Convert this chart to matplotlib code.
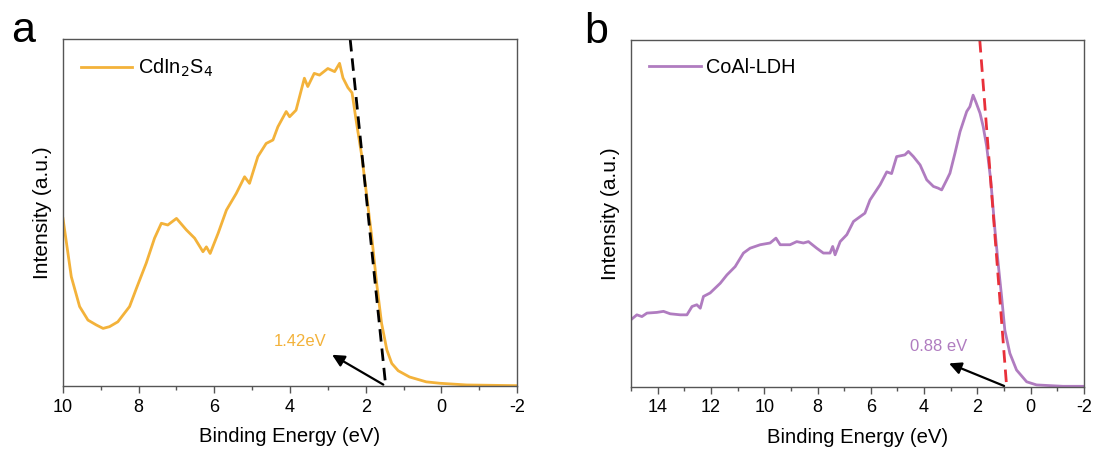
import matplotlib
matplotlib.use("Agg")
import matplotlib.pyplot as plt
from matplotlib.ticker import MultipleLocator

plt.rcParams['font.family'] = ['Liberation Sans', 'DejaVu Sans']
plt.rcParams['axes.unicode_minus'] = False

# Panel a: CdIn2S4 valence band XPS
cdin_x = [10.0, 9.78, 9.56, 9.34, 9.12, 8.94, 8.77, 8.55, 8.24, 8.06, 7.80, 7.58, 7.40, 7.23,
          7.00, 6.74, 6.52, 6.30, 6.21, 6.11, 5.90, 5.68, 5.42, 5.20, 5.07, 4.85, 4.63, 4.45,
          4.32, 4.10, 4.01, 3.84, 3.62, 3.53, 3.36, 3.22, 3.00, 2.82, 2.69, 2.60, 2.47, 2.36,
          2.24, 2.10, 1.97, 1.84, 1.71, 1.58, 1.44, 1.31, 1.14, 0.84, 0.40, 0.05, -0.67, -2.0]
cdin_y = [0.483, 0.315, 0.229, 0.190, 0.176, 0.166, 0.171, 0.185, 0.229, 0.281, 0.354, 0.426,
          0.469, 0.464, 0.483, 0.450, 0.426, 0.387, 0.401, 0.382, 0.440, 0.507, 0.555, 0.603,
          0.584, 0.661, 0.699, 0.709, 0.747, 0.791, 0.776, 0.795, 0.887, 0.863, 0.901, 0.896,
          0.915, 0.906, 0.930, 0.888, 0.860, 0.845, 0.757, 0.661, 0.546, 0.430, 0.296, 0.181,
          0.104, 0.065, 0.044, 0.026, 0.012, 0.008, 0.003, 0.001]
cdin_fit_x = [2.41, 1.47]
cdin_fit_y = [1.0, 0.0]

# Panel b: CoAl-LDH valence band XPS
coal_x = [15.0, 14.78, 14.59, 14.40, 14.03, 13.78, 13.53, 13.15, 12.90, 12.71, 12.53, 12.40,
          12.28, 12.03, 11.65, 11.40, 11.09, 10.78, 10.53, 10.15, 9.78, 9.56, 9.40, 9.03, 8.78,
          8.53, 8.34, 8.03, 7.78, 7.53, 7.43, 7.34, 7.15, 6.90, 6.65, 6.40, 6.22, 6.03, 5.65,
          5.40, 5.22, 5.03, 4.72, 4.59, 4.40, 4.15, 3.90, 3.65, 3.47, 3.34, 3.15, 3.03, 2.84,
          2.65, 2.40, 2.28, 2.16, 2.05, 1.90, 1.78, 1.65, 1.50, 1.34, 1.22, 1.09, 0.97, 0.78,
          0.53, 0.15, -0.22, -1.21, -2.0]
coal_y = [0.194, 0.208, 0.203, 0.213, 0.215, 0.218, 0.211, 0.208, 0.208, 0.232, 0.237, 0.227,
          0.261, 0.271, 0.299, 0.323, 0.347, 0.386, 0.400, 0.410, 0.415, 0.429, 0.410, 0.410,
          0.419, 0.415, 0.419, 0.400, 0.386, 0.386, 0.405, 0.381, 0.419, 0.439, 0.477, 0.491,
          0.501, 0.539, 0.583, 0.620, 0.615, 0.664, 0.669, 0.679, 0.664, 0.640, 0.597, 0.578,
          0.573, 0.568, 0.597, 0.616, 0.674, 0.736, 0.794, 0.808, 0.841, 0.820, 0.789, 0.750,
          0.693, 0.597, 0.452, 0.356, 0.260, 0.164, 0.097, 0.049, 0.015, 0.006, 0.002, 0.002]
coal_fit_x = [1.91, 0.90]
coal_fit_y = [1.0, 0.0]

ORANGE = '#F3B23A'
PURPLE = '#B07CC0'
RED = '#E8303A'
SPINE = '#555555'

fig = plt.figure(figsize=(10.97, 4.5), dpi=100)
ax1 = fig.add_axes([0.0574, 0.1422, 0.4139, 0.7711])
ax2 = fig.add_axes([0.5752, 0.1400, 0.4129, 0.7711])

def style(ax, xmax, xmin):
    ax.set_xlim(xmax, xmin)
    ax.set_ylim(0, 1.0)
    ax.xaxis.set_major_locator(MultipleLocator(2))
    ax.xaxis.set_minor_locator(MultipleLocator(1))
    ax.tick_params(axis='x', which='major', direction='out', length=5, width=1,
                   color=SPINE, labelsize=13, pad=4)
    ax.tick_params(axis='x', which='minor', direction='out', length=3, width=1, color=SPINE)
    ax.set_yticks([])
    for s in ax.spines.values():
        s.set_color(SPINE)
        s.set_linewidth(1.0)
    ax.set_xlabel('Binding Energy (eV)', fontsize=14.6, labelpad=8)
    ax.set_ylabel('Intensity (a.u.)', fontsize=15, labelpad=8)

# Panel a
ax1.plot(cdin_x, cdin_y, color=ORANGE, lw=2, label='CdIn$_2$S$_4$')
ax1.plot(cdin_fit_x, cdin_fit_y, color='black', lw=2, ls=(0, (4.5, 2.5)))
style(ax1, 10, -2)
ax1.annotate('', xy=(2.95, 0.094), xytext=(1.47, 0.0),
             arrowprops=dict(arrowstyle='-|>', color='black', lw=1.6, mutation_scale=18))
ax1.text(3.74, 0.127, '1.42eV', color=ORANGE, fontsize=12, ha='center', va='center')
ax1.legend(loc='upper left', frameon=False, fontsize=14.3, handlelength=2.6,
           handletextpad=0.3, bbox_to_anchor=(0.0, 1.0), borderaxespad=0.5)
fig.text(0.010, 0.907, 'a', fontsize=31, ha='left', va='baseline')

# Panel b
ax2.plot(coal_x, coal_y, color=PURPLE, lw=2, label='CoAl-LDH')
ax2.plot(coal_fit_x, coal_fit_y, color=RED, lw=2, ls=(0, (4.5, 2.5)))
style(ax2, 15, -2)
ax2.annotate('', xy=(3.16, 0.071), xytext=(0.90, 0.0),
             arrowprops=dict(arrowstyle='-|>', color='black', lw=1.6, mutation_scale=18))
ax2.text(3.47, 0.117, '0.88 eV', color=PURPLE, fontsize=12, ha='center', va='center')
ax2.legend(loc='upper left', frameon=False, fontsize=14.3, handlelength=2.6,
           handletextpad=0.3, bbox_to_anchor=(0.0, 1.0), borderaxespad=0.5)
fig.text(0.533, 0.904, 'b', fontsize=31, ha='left', va='baseline')

fig.savefig('out.png', dpi=100)
